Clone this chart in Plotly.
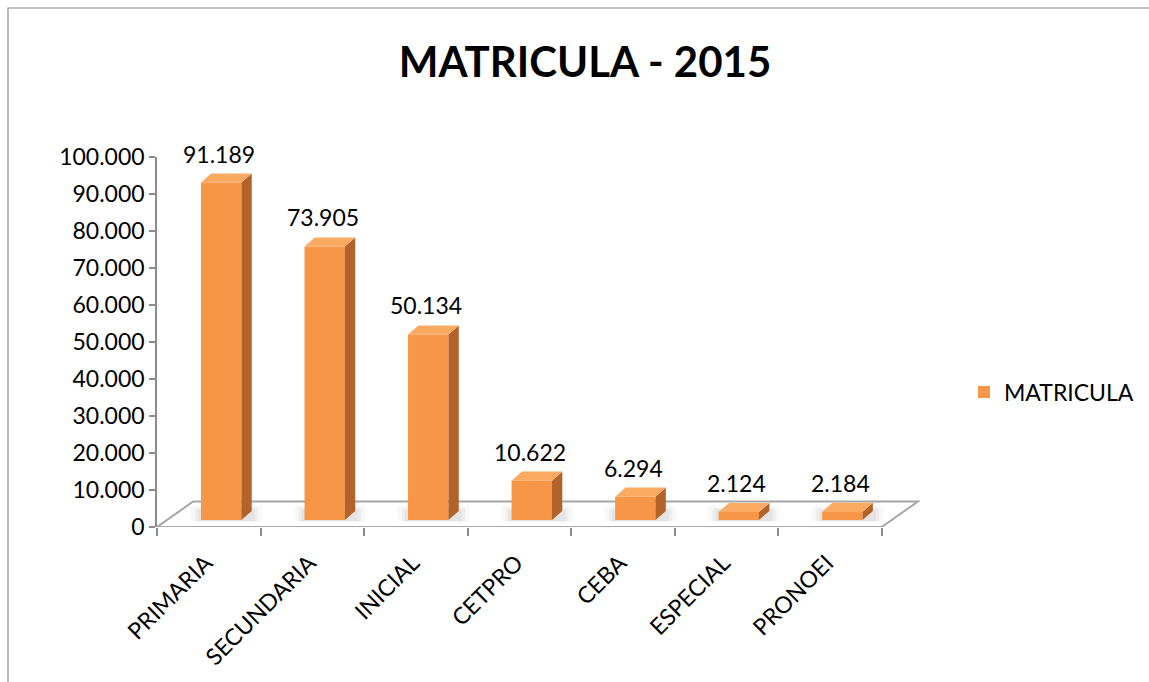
import plotly.graph_objects as go

# ---- data ----
categories = ["PRIMARIA", "SECUNDARIA", "INICIAL", "CETPRO", "CEBA", "ESPECIAL", "PRONOEI"]
matricula = [91189, 73905, 50134, 10622, 6294, 2124, 2184]
series_name = "MATRICULA"
title_text = "MATRICULA - 2015"
y_ticks = list(range(0, 100001, 10000))

# ---- style / 3D geometry (in axis units) ----
FONT = "Lato, 'Open Sans', sans-serif"
FRONT = "#F79646"
SIDE = "#B3632A"
TOP = "#FBAA62"
W = 0.39          # bar width
SHIFT = 0.12      # perspective shift of bar center
DX, DY = 0.10, 2450   # bar depth
BASE = 1900
FDX, FDY = 0.35, 6900  # floor depth

def fmt(v):
    return f"{v:,}".replace(",", ".")

n = len(categories)
idx = list(range(n))

fig = go.Figure()

# front faces
fig.add_trace(go.Bar(
    x=idx, y=matricula, base=BASE, width=W, offset=SHIFT - W / 2,
    marker=dict(color=FRONT, line=dict(width=0)), name=series_name,
    showlegend=True, hoverinfo="skip"))

# side and top faces
for i, v in zip(idx, matricula):
    x0 = i + SHIFT - W / 2
    x1 = x0 + W
    sx = [x1, x1 + DX, x1 + DX, x1, x1]
    sy = [BASE, BASE + DY, BASE + v + DY, BASE + v, BASE]
    fig.add_trace(go.Scatter(x=sx, y=sy, fill="toself", fillcolor=SIDE, mode="lines",
                             line=dict(width=0, color=SIDE), showlegend=False, hoverinfo="skip"))
    tx = [x0, x1, x1 + DX, x0 + DX, x0]
    ty = [BASE + v, BASE + v, BASE + v + DY, BASE + v + DY, BASE + v]
    fig.add_trace(go.Scatter(x=tx, y=ty, fill="toself", fillcolor=TOP, mode="lines",
                             line=dict(width=0, color=TOP), showlegend=False, hoverinfo="skip"))

# data labels (anchored on the top face of each bar)
for i, v in zip(idx, matricula):
    fig.add_annotation(x=i + 0.1, y=v + BASE + DY, xref="x", yref="y", text=fmt(v),
                       showarrow=False, xanchor="center", yanchor="bottom", yshift=4,
                       font=dict(family=FONT, size=23, color="black"))

shapes = []
# floor
shapes.append(dict(type="path", xref="x", yref="y", layer="below",
                   path=f"M {-0.5},0 L {n - 0.5},0 L {n - 0.5 + FDX},{FDY} L {-0.5 + FDX},{FDY} Z",
                   fillcolor="white", line=dict(color="#A6A6A6", width=2)))
# soft shadows around bar bases
for i, v in zip(idx, matricula):
    x0 = i + SHIFT - W / 2
    x1 = x0 + W
    for ex, ey, op in [(0.10, 1400, 0.05), (0.06, 800, 0.07), (0.03, 300, 0.08)]:
        shapes.append(dict(type="path", xref="x", yref="y", layer="below",
                           path=f"M {x0 - ex},{BASE - 400} L {x1 + DX + ex},{BASE - 400} "
                                f"L {x1 + DX + ex},{BASE + DY + ey} L {x0 - ex},{BASE + DY + ey} Z",
                           fillcolor=f"rgba(110,110,110,{op})", line=dict(width=0)))
# chart area border
shapes.append(dict(type="rect", xref="paper", yref="paper",
                   x0=(8 - 157) / 763, x1=(1160 - 157) / 763,
                   y0=(527 - 700) / 370, y1=(527 - 8) / 370,
                   line=dict(color="#8C8C8C", width=1.2), fillcolor="rgba(0,0,0,0)", layer="below"))

fig.update_layout(
    width=1149, height=682,
    margin=dict(l=157, r=229, t=157, b=155, autoexpand=False),
    paper_bgcolor="white", plot_bgcolor="white",
    separators=",.",
    font=dict(family=FONT, size=23, color="black"),
    title=dict(text=f"<b>{title_text}</b>", x=585 / 1149, xanchor="center",
               y=1 - 62 / 682, yanchor="middle",
               font=dict(family=FONT, size=42, color="black")),
    xaxis=dict(range=[-0.5, n - 0.5 + 0.37], tickvals=idx, ticktext=categories,
               ticks="", showline=False, showgrid=False, zeroline=False, tickangle=-45,
               ticklabelstandoff=17, ticklabelshift=-3, automargin=False,
               minor=dict(tickvals=[i - 0.5 for i in range(n + 1)], ticks="outside",
                          ticklen=8, tickcolor="#8C8C8C", tickwidth=1.5, showgrid=False),
               tickfont=dict(family=FONT, size=23, color="black")),
    yaxis=dict(range=[0, 100000], tickvals=y_ticks, tickformat=",d",
               ticks="outside", ticklen=6, tickcolor="#8C8C8C", tickwidth=1.5,
               showline=True, linecolor="#8C8C8C", linewidth=1.5,
               showgrid=False, zeroline=False, automargin=False,
               tickfont=dict(family=FONT, size=23, color="black")),
    legend=dict(x=(964 - 157) / 763, y=(527 - 392) / 370, xanchor="left", yanchor="middle",
                font=dict(family=FONT, size=23, color="black"), bgcolor="rgba(0,0,0,0)",
                itemwidth=30),
    shapes=shapes,
)

fig.write_html("out.html", config={"displayModeBar": False},
               post_script="document.body.style.margin='0';")
